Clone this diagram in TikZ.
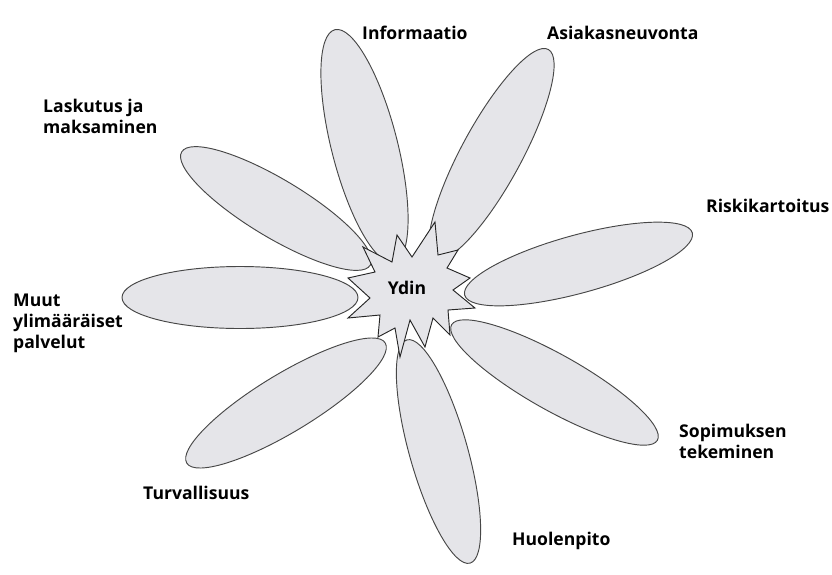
\documentclass[tikz,border=0pt]{standalone}
\usepackage{fontspec}
\setmainfont{Open Sans}
\usetikzlibrary{positioning}

\definecolor{petalgray}{RGB}{229,229,233}

\begin{document}
\begin{tikzpicture}[x=0.03cm, y=-0.03cm,
  petal/.style={draw=black!72, fill=petalgray, line width=0.8pt},
  lbl/.style={font=\fontsize{15}{18}\selectfont\bfseries, align=left, inner sep=0pt, anchor=north west}]
  \useasboundingbox (0,0) rectangle (832,574);
  % petals: centre x / centre y / angle / half length / half width
  \foreach \cx/\cy/\a/\rl/\rw in {364.5/146/104.3/120/33, 491.5/154/61.5/119/30,
      276/208.5/149/110/29, 240/297.5/180/118/31, 578.5/264/15.3/118/29,
      554.5/382.5/-29.3/118/28, 286/403/211.2/116/29, 438.5/451.5/-74.2/116/29}
    \draw[petal, shift={(\cx,\cy)}, rotate=\a] (0,0) ellipse [x radius=\rl, y radius=\rw];
  % core star
  \draw[petal, draw=black!85] (363,247) -- (392,262) -- (397,235) -- (412,257) -- (435,222)
    -- (438,255) -- (458,250) -- (447,268) -- (470,278) -- (453,290) -- (475,308)
    -- (448,310) -- (450,335) -- (433,318) -- (425,347) -- (410,320) -- (400,357)
    -- (395,328) -- (378,337) -- (380,315) -- (348,318) -- (370,298) -- (348,278)
    -- (375,272) -- cycle;
  \node[font=\fontsize{15}{18}\selectfont\bfseries] (ydin) at (407,288) {Ydin};
  % labels
  \node[lbl] (info) at (362,26) {Informaatio};
  \node[lbl] (asiakas) at (547,26) {Asiakasneuvonta};
  \node[lbl] (laskutus) at (43,99) {Laskutus ja\\maksaminen};
  \node[lbl] (riski) at (706,199) {Riskikartoitus};
  \node[lbl] (muut) at (13,294) {Muut\\ylimääräiset\\palvelut};
  \node[lbl] (sopimus) at (679,424) {Sopimuksen\\tekeminen};
  \node[lbl] (turva) at (143,486) {Turvallisuus};
  \node[lbl] (huolenpito) at (512,532) {Huolenpito};
\end{tikzpicture}
\end{document}
